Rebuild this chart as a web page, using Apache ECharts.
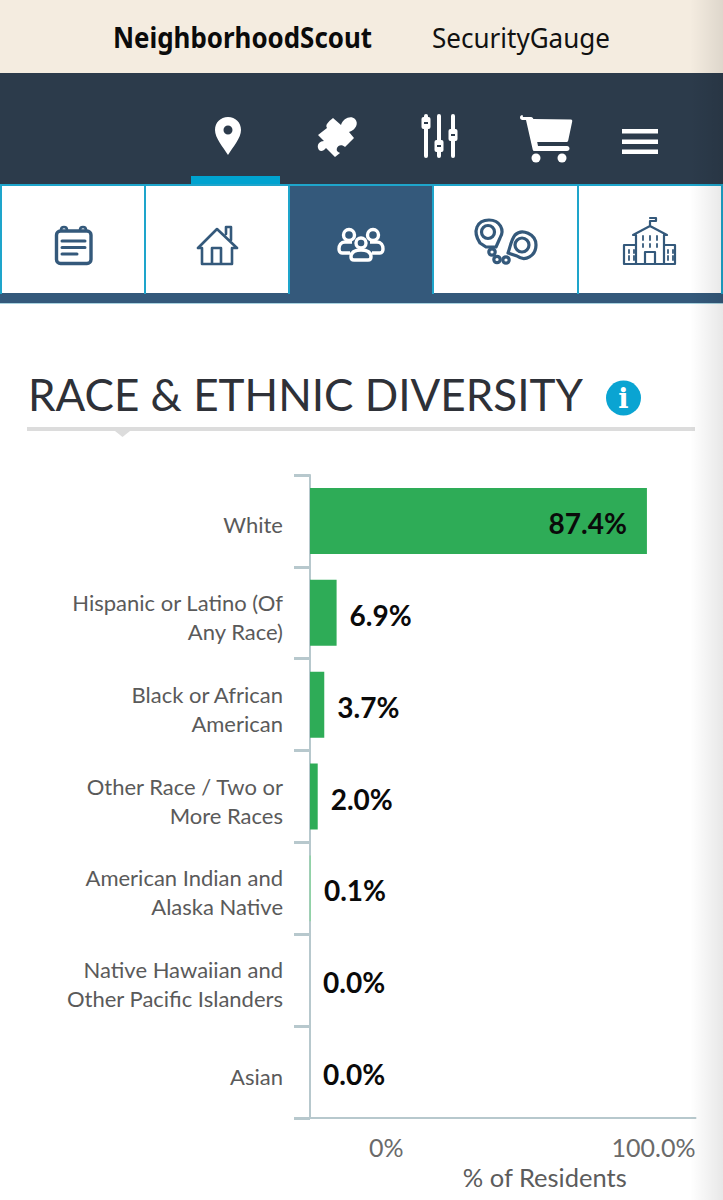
<!DOCTYPE html>
<html>
<head>
<meta charset="utf-8">
<title>Race & Ethnic Diversity</title>
<script src="https://cdn.jsdelivr.net/npm/echarts@6/dist/echarts.min.js"></script>
<style>
  html, body { margin: 0; padding: 0; background: #fff; }
  #page { position: relative; width: 723px; height: 1200px; overflow: hidden; }
  #chrome, #chart, #edge { position: absolute; left: 0; top: 0; width: 723px; height: 1200px; }
  #edge { background: linear-gradient(to right, rgba(0,0,0,0) 690px, rgba(0,0,0,.09) 723px); pointer-events: none; }
  .ln { fill: none; stroke: #34597b; stroke-width: 2.6; stroke-linejoin: round; stroke-linecap: round; }
</style>
</head>
<body>
<div id="page">
<svg id="chrome" viewBox="0 0 723 1200" xmlns="http://www.w3.org/2000/svg">
  <rect x="0" y="0" width="723" height="73" fill="#f4ece0"/>
  <text x="113" y="48" font-family="Noto Sans" font-weight="700" font-size="28" fill="#0b0b0b" textLength="259" lengthAdjust="spacingAndGlyphs">NeighborhoodScout</text>
  <text x="432" y="48" font-family="Noto Sans" font-size="28" fill="#111" textLength="178" lengthAdjust="spacingAndGlyphs">SecurityGauge</text>

  <rect x="0" y="73" width="723" height="111" fill="#2c3b4b"/>
  <rect x="191" y="176" width="89" height="8" fill="#00a3d0"/>

  <!-- pin -->
  <path fill-rule="evenodd" fill="#fff" d="M228 117c-7.500 0-13 5.500-13 13 0 8 8 17 13 25 5-8 13-17 13-25 0-7.500-5.500-13-13-13zm0 8.500a4.500 4.500 0 1 1 0 9 4.500 4.500 0 0 1 0-9z"/>
  <!-- puzzle -->
  <path fill="#fff" d="M333 118L341 125C343 118 351 115 355 119C359 123 356 130 349 132L354 138L345 147C342 144 338 145 337 148C336 151 338 152 340 153L335 157L326 148C323 152 319 152 318 148C317 144 320 141 324 141L318 135L327 128C325 125 328 122 333 118Z"/>
  <!-- sliders -->
  <g fill="#fff">
    <rect x="424" y="114" width="4" height="44" rx="2"/>
    <rect x="437" y="114" width="4" height="44" rx="2"/>
    <rect x="451" y="114" width="4" height="44" rx="2"/>
    <rect x="421.500" y="117" width="9" height="12" rx="2"/>
    <rect x="434.500" y="140" width="9" height="12" rx="2"/>
    <rect x="448.500" y="129" width="9" height="12" rx="2"/>
  </g>
  <g fill="#2c3b4b">
    <rect x="424" y="122" width="4" height="2"/>
    <rect x="437" y="145" width="4" height="2"/>
    <rect x="451" y="134" width="4" height="2"/>
  </g>
  <!-- cart -->
  <path fill="#fff" d="M523 117h8c1.500 0 2 1 2.300 2l37.700.5c1 0 1.500 1 1.200 2l-4 19c-.3 1-1 1.500-2 1.500h-29l.8 4h29c1.500 0 2.500 1 2.500 2.500s-1 2.500-2.500 2.500h-32.500c-1 0-1.500-.5-1.800-1.500l-6.700-29.500h-3.500c-1.500 0-2.500-1-2.500-2.500s1-2.500 2.500-2.500z"/>
  <circle cx="536" cy="158" r="4.500" fill="#fff"/>
  <circle cx="562" cy="158" r="4.500" fill="#fff"/>
  <!-- menu -->
  <g fill="#fff">
    <rect x="622" y="129" width="36" height="4.500"/>
    <rect x="622" y="139.500" width="36" height="4.500"/>
    <rect x="622" y="149.500" width="36" height="4.500"/>
  </g>

  <!-- tab strip -->
  <rect x="0" y="184" width="723" height="119" fill="#34597b"/>
  <g fill="#fff">
    <rect x="0" y="185" width="145" height="108"/>
    <rect x="145" y="185" width="144" height="108"/>
    <rect x="433" y="185" width="145" height="108"/>
    <rect x="578" y="185" width="145" height="108"/>
  </g>
  <g stroke="#1ea5cb" stroke-width="2">
    <path d="M0 185h723M1 185v109M145 185v109M289 185v109M433 185v109M578 185v109M722 185v109" fill="none"/>
  </g>
  <rect x="0" y="303" width="723" height="1" fill="#a9d3e0"/>

  <!-- notes -->
  <rect class="ln" x="56.500" y="231" width="34.500" height="32.500" rx="4" style="stroke-width:3.400"/>
  <path class="ln" d="M61 230c0-4 6-4 6 0M80 230c0-4 6-4 6 0"/>
  <path class="ln" d="M62 241h23M62 247.500h23M62 254h15" style="stroke-width:3"/>
  <!-- house -->
  <path class="ln" d="M198 248l19-19 20 19h-4M198 248h4v16h30v-16M212 264v-16h9v16M226 234v-7h5v13"/>
  <!-- people -->
  <g fill="none" stroke="#fff" stroke-width="3.400">
    <circle cx="349" cy="235" r="5.500"/>
    <circle cx="373" cy="235" r="5.500"/>
    <circle cx="361" cy="243" r="5"/>
    <path d="M352 242h-7c-4 0-6 3-6 7 0 2 1 4 3 4h8M370 242h7c4 0 6 3 6 7 0 2-1 4-3 4h-8"/>
    <path d="M351 257c0-5 4-7 10-7s10 2 10 7c0 2-1 3-3 3h-14c-2 0-3-1-3-3z"/>
  </g>
  <!-- cuffs -->
  <g class="ln" style="stroke-width:3.200">
    <path d="M480 243C472 231 477 220 489 220C500 220 505 230 500 238L496 247L486 247Z"/>
    <circle cx="488" cy="232" r="6.500"/>
    <path d="M508 253C510 248 511 240 515 235C522 228 536 234 536 245C536 256 525 262 517 256Z"/>
    <circle cx="522" cy="245" r="7"/>
    <circle cx="492" cy="252" r="3.200"/>
    <circle cx="497" cy="259.500" r="3.200"/>
    <circle cx="506" cy="260" r="3.200"/>
  </g>
  <!-- school -->
  <g class="ln" style="stroke-width:2.200">
    <path d="M624 245h12v-10l-3 0 17-9 17 9-3 0v10h11v19h-51zM636 245v19M664 245v19M645 264v-12h10v12M650 226v-5h6v-3h-6"/>
    <path d="M643 236v4M650 236v4M657 236v4M643 244v3M650 244v3M657 244v3M629 250v3M629 256v4M634 250v3M634 256v4M668 250v3M668 256v4M673 250v3M673 256v4" style="stroke-width:1.800"/>
  </g>

  <!-- heading rule and info badge -->
  <rect x="27" y="427" width="668" height="4" fill="#dcdcdc"/>
  <path d="M115 431h15l-7.500 6z" fill="#dcdcdc"/>
  <circle cx="623.500" cy="398" r="17.500" fill="#0aa4d2"/>
  <text x="623.500" y="408" text-anchor="middle" font-family="DejaVu Serif" font-weight="700" font-size="27" fill="#fff">i</text>
</svg>
<div id="chart"></div>
<div id="edge"></div>
</div>
<script>
const categories = [
  "White",
  "Hispanic or Latino (Of\nAny Race)",
  "Black or African\nAmerican",
  "Other Race / Two or\nMore Races",
  "American Indian and\nAlaska Native",
  "Native Hawaiian and\nOther Pacific Islanders",
  "Asian"
];
const residentsPct = [87.4, 6.9, 3.7, 2.0, 0.1, 0.0, 0.0];
const xTickLabels = { 0: "{first|0%}", 100: "100.0%" };

const chart = echarts.init(document.getElementById("chart"), null, { renderer: "svg" });

const labelFont = "Lato, sans-serif";

chart.setOption({
  animation: false,
  backgroundColor: "transparent",
  title: {
    text: "RACE & ETHNIC DIVERSITY",
    left: 23,
    top: 367,
    textStyle: { fontFamily: labelFont, fontSize: 44, fontWeight: 400, color: "#2e3138" }
  },
  grid: { left: 310, top: 475, width: 385.5, height: 643, containLabel: false },
  xAxis: {
    type: "value",
    min: 0,
    max: 100,
    interval: 100,
    name: "% of Residents",
    nameLocation: "middle",
    nameGap: 45,
    nameTextStyle: {
      fontFamily: labelFont, fontSize: 25.500, color: "#5c5c5c", padding: [0, 0, 0, 84]
    },
    splitLine: { show: false },
    axisTick: { show: false },
    axisLine: { show: true, lineStyle: { color: "#b7c8cd", width: 2 } },
    axisLabel: {
      margin: 16,
      fontFamily: labelFont,
      fontSize: 25,
      color: "#6a6a6a",
      alignMinLabel: "left",
      alignMaxLabel: "right",
      formatter: v => xTickLabels[v],
      rich: {
        first: { fontFamily: labelFont, fontSize: 25, color: "#6a6a6a", padding: [0, 0, 0, 59] }
      }
    }
  },
  yAxis: {
    type: "category",
    inverse: true,
    data: categories,
    axisLine: { show: true, lineStyle: { color: "#b7c8cd", width: 2 } },
    axisTick: { show: true, length: 16, lineStyle: { color: "#b7c8cd", width: 3 } },
    axisLabel: {
      margin: 27,
      align: "right",
      // a thin spacer line on top drops the text a few px below the band centre
      formatter: v => "{gap| }\n" + v.split("\n").map(l => "{txt|" + l + "}").join("\n"),
      rich: {
        gap: { fontSize: 1, height: 8, lineHeight: 8 },
        txt: { fontFamily: labelFont, fontSize: 22, lineHeight: 29, color: "#5a5a5a" }
      }
    }
  },
  series: [
    {
      type: "bar",
      barWidth: 66,
      data: residentsPct.map(v => ({
        value: v,
        itemStyle: v > 0 && v < 0.5
          ? { color: "#8fd3a5", borderColor: "#8fd3a5", borderWidth: 1.5 }
          : { color: "#2eac57" },
        label: v > 50
          ? { position: "insideRight", distance: 20 }
          : { position: "right", distance: 13 }
      })),
      label: {
        show: true,
        fontFamily: labelFont,
        fontSize: 28,
        fontWeight: 700,
        color: "#0a0a0a",
        offset: [0, 2],
        formatter: p => p.value.toFixed(1) + "%"
      }
    }
  ]
});
</script>
</body>
</html>
